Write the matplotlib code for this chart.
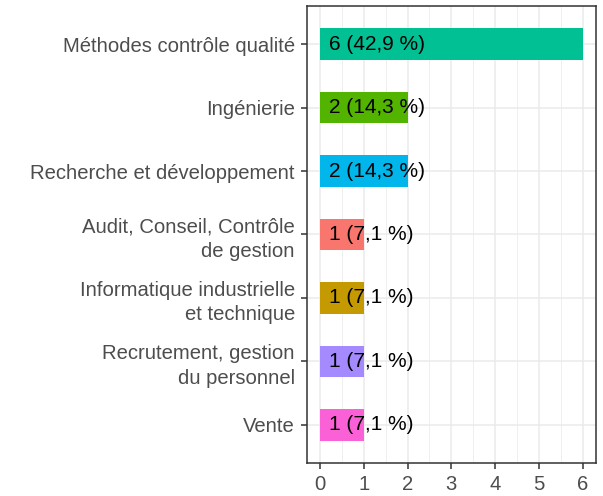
import numpy as np
import matplotlib.pyplot as plt

categories = ["Méthodes contrôle qualité", "Ingénierie", "Recherche et développement",
              "Audit, Conseil, Contrôle\nde gestion", "Informatique industrielle\net technique",
              "Recrutement, gestion\ndu personnel", "Vente"]
counts = [6, 2, 2, 1, 1, 1, 1]
labels = ["6 (42,9 %)", "2 (14,3 %)", "2 (14,3 %)", "1 (7,1 %)", "1 (7,1 %)", "1 (7,1 %)", "1 (7,1 %)"]
colors = ["#00C094", "#53B400", "#00B6EB", "#F8766D", "#C49A00", "#A58AFF", "#FB61D7"]

plt.rcParams['font.family'] = ['Liberation Sans', 'DejaVu Sans']

fig = plt.figure(figsize=(6.03, 4.96), dpi=100)
ax = fig.add_axes([0.5087, 0.0665, 0.4798, 0.9215])

y = np.arange(len(categories))[::-1]
ax.barh(y, counts, height=0.5, color=colors, zorder=2)
for yi, lab in zip(y, labels):
    ax.text(0.2, yi, lab, va='center', ha='left', fontsize=15, color='black', zorder=3)

ax.set_xlim(-0.3, 6.3)
ax.set_ylim(-0.6, len(categories) - 0.4)
ax.set_xticks(range(7))
ax.set_xticks(np.arange(0.5, 6, 1), minor=True)
ax.set_yticks(y)
ax.set_yticklabels(categories, ha='right', multialignment='right', linespacing=1.35)
ax.grid(True, which='major', color='#EBEBEB', linewidth=1.1, zorder=0)
ax.grid(True, which='minor', axis='x', color='#EBEBEB', linewidth=0.55, zorder=0)
ax.set_axisbelow(True)
ax.tick_params(axis='both', which='major', length=4, width=1.1, color='#333333',
               labelcolor='#4D4D4D', labelsize=14.6, pad=4.5)
ax.tick_params(axis='both', which='minor', length=0)
for s in ax.spines.values():
    s.set_color('#333333')
    s.set_linewidth(1.1)

plt.savefig("out.png", dpi=100)
